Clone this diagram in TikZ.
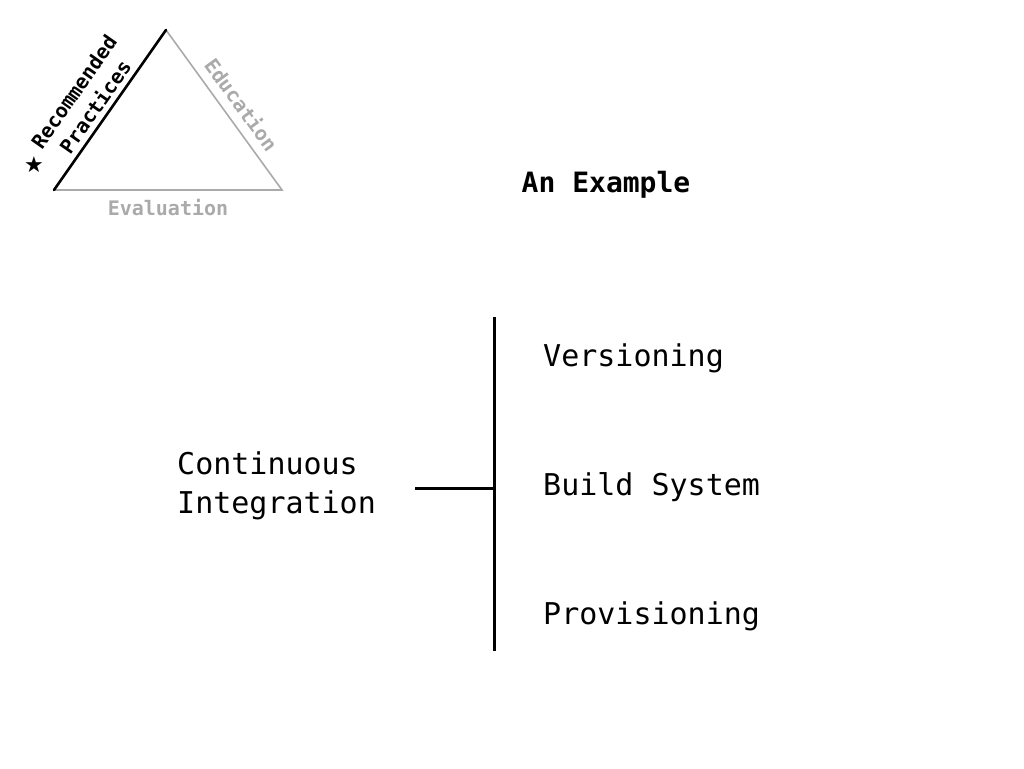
\documentclass[tikz,border=0pt]{standalone}
\usepackage{fontspec}
\usetikzlibrary{calc}
\newfontfamily\dvm{DejaVu Sans Mono}
\newfontfamily\dvs{DejaVu Sans}
\definecolor{lightgr}{HTML}{AAAAAA}
\begin{document}
\begin{tikzpicture}[x=1pt,y=-1pt,
  big/.style={font=\dvm\fontsize{30}{39}\selectfont, inner sep=0pt, align=left},
  tri/.style={font=\dvm\bfseries\fontsize{20}{26}\selectfont, inner sep=2pt, align=center},
  bar/.style={line width=3pt}]
\useasboundingbox (0,0) rectangle (1024,768);
% triangle
\coordinate (L) at (54,190);
\coordinate (T) at (166,30);
\coordinate (R) at (282,190);
\draw[lightgr, line width=1.6pt] (L) -- (R) -- (T);
\draw[black, line width=2.6pt, line cap=round] (L) -- (T);
\node[tri, anchor=south, rotate=55, inner sep=6pt] (rp) at ($(L)!0.47!(T)$) {Recommended\\Practices};
\node[tri, lightgr, anchor=south, rotate=-54, inner sep=9pt] (edu) at ($(T)!0.53!(R)$) {Education};
\node[tri, lightgr, anchor=north, inner sep=9pt] (eval) at ($(L)!0.5!(R)$) {Evaluation};
\node[font=\dvs\fontsize{22}{22}\selectfont, inner sep=0pt] (star) at (34,165) {★};
% title
\node[font=\dvm\bfseries\fontsize{28}{30}\selectfont, inner sep=0pt, anchor=base] (title) at (606,192) {An Example};
% tree
\node[big, anchor=base west] (ci) at (177,513) {Continuous\\Integration};
\coordinate (h1) at (415,488);
\coordinate (h2) at (494,488);
\coordinate (vtop) at (494,317);
\coordinate (vbot) at (494,651);
\draw[bar] (h1) -- (h2);
\draw[bar] (vtop) -- (vbot);
\node[big, anchor=base west] (v) at (543,366) {Versioning};
\node[big, anchor=base west] (b) at (543,495) {Build System};
\node[big, anchor=base west] (p) at (543,624) {Provisioning};
\end{tikzpicture}
\end{document}
